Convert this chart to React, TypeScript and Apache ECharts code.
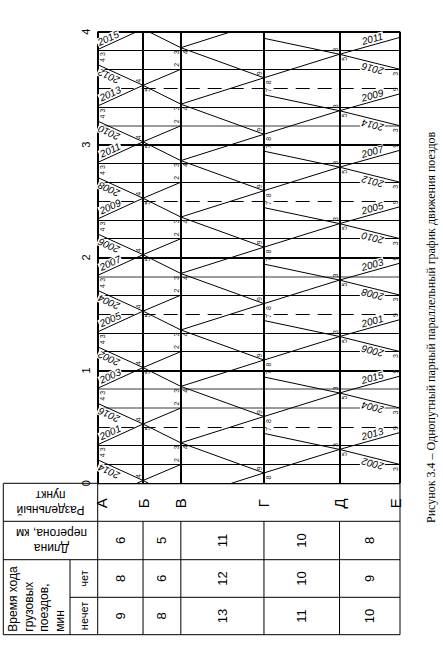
import React, { useEffect, useRef } from 'react';
import * as echarts from 'echarts';

// ---------- data ----------
const stations = ['А', 'Б', 'В', 'Г', 'Д', 'Е'];
const stationKm = [0, 6, 11, 22, 32, 40];
const spanKm = ['6', '5', '11', '10', '8'];
const runEven = ['8', '6', '12', '10', '9'];
const runOdd = ['9', '8', '13', '11', '10'];
const hourTicks = [0, 60, 120, 180, 240];

// odd trains А → Е : minutes at А dep, Б, В arr, В dep, Г, Д, Е arr
const oddNumbers = ['2001', '2003', '2005', '2007', '2009', '2011', '2013', '2015'];
const oddPath = [0, 1, 2, 2, 3, 4, 5];
const oddTimes = [
  [20.5, 31.5, 40, 51.5, 65.5, 78, 87],
  [50.5, 61.5, 70, 81.5, 95.5, 108, 117],
  [80.5, 91.5, 100, 111.5, 125.5, 138, 147],
  [110.5, 121.5, 130, 141.5, 155.5, 168, 177],
  [140.5, 151.5, 160, 171.5, 185.5, 198, 207],
  [170.5, 181.5, 190, 201.5, 215.5, 228, 237],
  [200.5, 211.5, 220, 231.5, 245.5, 258, 267],
  [230.5, 241.5, 250, 261.5, 275.5, 288, 297],
];
// minute digits written at the stations (incoming / outgoing line end)
const oddDigitsIn = ['', '4', '2', '', '9', '3', '9'];
const oddDigitsOut = ['3', '5', '', '4', '8', '5', ''];

// even trains Е → А : minutes at Е dep, Д, Г arr, Г dep, В, Б, А arr
const evenNumbers = ['2002', '2004', '2006', '2008', '2010', '2012', '2014', '2016'];
const evenPath = [5, 4, 3, 3, 2, 1, 0];
const evenTimes = [
  [10, 18, 26.5, 35.5, 51.5, 61.5, 72.5],
  [40, 48, 56.5, 65.5, 81.5, 91.5, 102.5],
  [70, 78, 86.5, 95.5, 111.5, 121.5, 132.5],
  [100, 108, 116.5, 125.5, 141.5, 151.5, 162.5],
  [130, 138, 146.5, 155.5, 171.5, 181.5, 192.5],
  [160, 168, 176.5, 185.5, 201.5, 211.5, 222.5],
  [190, 198, 206.5, 215.5, 231.5, 241.5, 252.5],
  [220, 228, 236.5, 245.5, 261.5, 271.5, 282.5],
];
const evenDigitsIn = ['', '', '7', '', '', '', '4'];
const evenDigitsOut = ['3', '', '', '', '3', '', ''];

const thinLines = [10, 20, 70, 80, 100, 130, 140, 160, 170, 200, 220, 230];
const grayLines = [40, 50, 110, 190];
const heavyLines = [0, 60, 120, 180, 240];
const dashedLines = [30, 90, 150, 210];

const caption = 'Рисунок 3.4 – Однопутный парный параллельный график движения поездов';
const CYCLE = 240;

type P = number[];

function wrapSegment(a: P, b: P): P[][] {
  const [x1, t1] = a;
  const [x2, t2] = b;
  if (t1 >= CYCLE && t2 >= CYCLE) return [[[x1, t1 - CYCLE], [x2, t2 - CYCLE]]];
  if ((t1 < CYCLE && t2 > CYCLE) || (t2 < CYCLE && t1 > CYCLE)) {
    const f = (CYCLE - t1) / (t2 - t1);
    const xm = x1 + f * (x2 - x1);
    if (t1 < t2) return [[[x1, t1], [xm, CYCLE]], [[xm, 0], [x2, t2 - CYCLE]]];
    return [[[x1, t1 - CYCLE], [xm, 0]], [[xm, CYCLE], [x2, t2]]];
  }
  return [[[x1, t1], [x2, t2]]];
}

type Seg = { pieces: P[][]; from: number; to: number; i0: number; i1: number; a: P; b: P };

function trainSegments(path: number[], times: number[]) {
  const segs: Seg[] = [];
  for (let i = 0; i < path.length - 1; i++) {
    if (path[i] === path[i + 1]) continue;
    const a = [stationKm[path[i]], times[i]];
    const b = [stationKm[path[i + 1]], times[i + 1]];
    segs.push({ pieces: wrapSegment(a, b), from: path[i], to: path[i + 1], i0: i, i1: i + 1, a, b });
  }
  return segs;
}

function linesSeries(data: P[][], color: string, width: number, type: any = 'solid', z = 2) {
  return {
    type: 'lines',
    coordinateSystem: 'cartesian2d',
    polyline: false,
    silent: true,
    z,
    animation: false,
    lineStyle: { color, width, type, opacity: 1, curveness: 0 },
    data: data.map((c) => ({ coords: c })),
  };
}

export default function App() {
  const ref = useRef<HTMLDivElement>(null);

  useEffect(() => {
    const el = ref.current!;
    const chart = echarts.init(el, null, { renderer: 'svg' });

    const kmMax = stationKm[stationKm.length - 1];
    const hline = (t: number): P[] => [[0, t], [kmMax, t]];
    const vline = (km: number): P[] => [[km, 0], [km, CYCLE]];

    const trainPieces: P[][] = [];
    const oddSegs = oddTimes.map((t) => trainSegments(oddPath, t));
    const evenSegs = evenTimes.map((t) => trainSegments(evenPath, t));
    [...oddSegs, ...evenSegs].forEach((segs) => segs.forEach((s) => s.pieces.forEach((p) => trainPieces.push(p))));

    const option: any = {
      animation: false,
      textStyle: { fontFamily: '"Liberation Sans", Arial, sans-serif' },
      grid: { left: 97.7, top: 31.7, width: 302.3, height: 451.6, containLabel: false, outerBoundsMode: 'none' },
      xAxis: { type: 'value', min: 0, max: kmMax, show: false },
      yAxis: {
        type: 'value',
        min: 0,
        max: CYCLE,
        interval: 60,
        axisLine: { show: false },
        axisTick: { show: false },
        splitLine: { show: false },
        axisLabel: {
          formatter: (v: number) => String(hourTicks.indexOf(v) >= 0 ? v / 60 : ''),
          rotate: 90,
          margin: 6,
          fontSize: 11,
          color: '#000',
          showMinLabel: true,
          showMaxLabel: true,
        },
      },
      series: [
        linesSeries(thinLines.map(hline), '#000', 1),
        linesSeries(grayLines.map(hline), '#7a7a7a', 1.6),
        linesSeries(dashedLines.map(hline), '#000', 1, [14, 8]),
        linesSeries(heavyLines.map(hline), '#000', 2),
        linesSeries(stationKm.map(vline), '#000', 2),
        linesSeries(trainPieces, '#000', 1, 'solid', 3),
      ],
    };
    chart.setOption(option);

    const px = (x: number, t: number): number[] => chart.convertToPixel({ gridIndex: 0 }, [x, t]) as number[];
    const sx = stationKm.map((k) => px(k, 0)[0]);
    const yTop = px(0, 0)[1];

    const g: any[] = [];
    const labelFont = 'italic 10px "Liberation Sans", Arial, sans-serif';

    const addTrainLabel = (num: string, pieces: P[][], odd: boolean, frac: number) => {
      let best = pieces[0];
      let bestLen = -1;
      pieces.forEach((p) => {
        const len = Math.abs(p[1][0] - p[0][0]);
        if (len > bestLen) { bestLen = len; best = p; }
      });
      const a = px(best[0][0], best[0][1]);
      const b = px(best[1][0], best[1][1]);
      const L = a[0] <= b[0] ? a : b;
      const R = a[0] <= b[0] ? b : a;
      const ang = Math.atan2(L[1] - R[1], R[0] - L[0]);
      const P0 = [L[0] + frac * (R[0] - L[0]), L[1] + frac * (R[1] - L[1])];
      const d = 6;
      let cx: number, cy: number, rot: number;
      if (odd) {
        cx = P0[0] - d * Math.sin(ang);
        cy = P0[1] - d * Math.cos(ang);
        rot = ang;
      } else {
        cx = P0[0] + d * Math.sin(ang);
        cy = P0[1] + d * Math.cos(ang);
        rot = ang + Math.PI;
      }
      g.push({
        type: 'text', x: cx, y: cy, rotation: rot, z: 100,
        style: {
          text: num, font: labelFont, fill: '#000', align: 'center', verticalAlign: 'middle',
          textAlign: 'center', textVerticalAlign: 'middle',
          backgroundColor: '#fff', padding: [0, 1], lineHeight: 9,
        },
      });
    };

    // minute digits near the stations
    const digitFont = '7px "Liberation Sans", Arial, sans-serif';
    const addDigit = (text: string, station: number, t: number, other: P) => {
      if (!text) return;
      let tt = t;
      if (tt > CYCLE) tt -= CYCLE;
      if (tt < 0 || tt > CYCLE) return;
      const side = other[0] > stationKm[station] ? 1 : -1;
      const vert = other[1] > t ? 1 : -1; // segment goes to later time -> digit below
      const p = px(stationKm[station], tt);
      const y = p[1] + vert * 4.5;
      if (y < yTop - 451 + 2 || y > yTop - 2) return;
      g.push({
        type: 'text', x: p[0] + side * 4.5, y, rotation: Math.PI / 2, z: 90,
        style: {
          text, font: digitFont, fill: '#222', align: 'center', verticalAlign: 'middle',
          textAlign: 'center', textVerticalAlign: 'middle',
        },
      });
    };

    oddSegs.forEach((segs, i) => {
      segs.forEach((s) => {
        if (s.from === 0 && s.to === 1) addTrainLabel(oddNumbers[i], s.pieces, true, 0.33);
        if (s.from === 4 && s.to === 5) addTrainLabel(oddNumbers[i], s.pieces, true, 0.57);
        addDigit(oddDigitsOut[s.i0], s.from, s.a[1], s.b);
        addDigit(oddDigitsIn[s.i1], s.to, s.b[1], s.a);
      });
    });
    evenSegs.forEach((segs, i) => {
      segs.forEach((s) => {
        if (s.from === 1 && s.to === 0) addTrainLabel(evenNumbers[i], s.pieces, false, 0.3);
        if (s.from === 5 && s.to === 4) addTrainLabel(evenNumbers[i], s.pieces, false, 0.57);
        addDigit(evenDigitsOut[s.i0], s.from, s.a[1], s.b);
        addDigit(evenDigitsIn[s.i1], s.to, s.b[1], s.a);
      });
    });

    // ---------- table ----------
    const tx0 = 3.3;
    const txSplit = 70;
    const rows = [yTop, 521.3, 559.7, 597.3, 634.7];
    const xA = sx[0];
    const xE = sx[sx.length - 1];
    const line = (x1: number, y1: number, x2: number, y2: number, w = 1) =>
      g.push({ type: 'line', z: 50, shape: { x1, y1, x2, y2 }, style: { stroke: '#000', lineWidth: w } });

    line(tx0, rows[0], xA, rows[0], 1);
    line(tx0, rows[1], xE, rows[1]);
    line(tx0, rows[2], xE, rows[2]);
    line(txSplit, rows[3], xE, rows[3]);
    line(tx0, rows[4], xE, rows[4]);
    line(tx0, rows[0], tx0, rows[4]);
    line(xA, rows[0], xA, rows[4]);
    line(xE, rows[0], xE, rows[4]);
    line(txSplit, rows[2], txSplit, rows[4]);
    for (let i = 1; i < sx.length - 1; i++) line(sx[i], rows[1], sx[i], rows[4]);

    const txt = (text: string, x: number, y: number, rotation: number, font: string, extra: any = {}) =>
      g.push({
        type: 'text', x, y, rotation, z: 60,
        style: {
          text, font, fill: '#000', align: 'center', verticalAlign: 'middle',
          textAlign: 'center', textVerticalAlign: 'middle', ...extra,
        },
      });

    const hdrFont = '12px "Liberation Sans", Arial, sans-serif';
    txt('Раздельный\nпункт', (tx0 + xA) / 2, (rows[0] + rows[1]) / 2, Math.PI, hdrFont, { lineHeight: 15 });
    txt('Длина\nперегона, км', (tx0 + xA) / 2 + 1, (rows[1] + rows[2]) / 2, Math.PI, hdrFont, { lineHeight: 15 });
    g.push({
      type: 'text', x: 5.5, y: rows[4] - 3, rotation: Math.PI / 2, z: 60,
      style: {
        text: 'Время хода\nгрузовых\nпоездов,\nмин', font: hdrFont, fill: '#000',
        align: 'left', verticalAlign: 'top', textAlign: 'left', textVerticalAlign: 'top', lineHeight: 15.5,
      },
    });
    const smallFont = '11px "Liberation Sans", Arial, sans-serif';
    txt('чет', (txSplit + xA) / 2, (rows[2] + rows[3]) / 2, Math.PI / 2, smallFont);
    txt('нечет', (txSplit + xA) / 2, (rows[3] + rows[4]) / 2, Math.PI / 2, smallFont);

    const letterFont = '15px "Liberation Sans", Arial, sans-serif';
    stations.forEach((s, i) => {
      const cx = Math.min(Math.max(sx[i], xA + 4), xE - 5);
      txt(s, cx, (rows[0] + rows[1]) / 2 + 1, Math.PI / 2, letterFont);
    });
    const valFont = '13px "Liberation Sans", Arial, sans-serif';
    for (let i = 0; i < spanKm.length; i++) {
      const cx = (sx[i] + sx[i + 1]) / 2;
      txt(spanKm[i], cx, (rows[1] + rows[2]) / 2, Math.PI / 2, valFont);
      txt(runEven[i], cx, (rows[2] + rows[3]) / 2, Math.PI / 2, valFont);
      txt(runOdd[i], cx, (rows[3] + rows[4]) / 2, Math.PI / 2, valFont);
    }

    // caption
    g.push({
      type: 'text', x: 431, y: 523, rotation: Math.PI / 2, z: 60,
      style: {
        text: caption, font: '12px "Liberation Serif", "Times New Roman", serif', fill: '#000',
        align: 'left', verticalAlign: 'middle', textAlign: 'left', textVerticalAlign: 'middle',
      },
    });

    chart.setOption({ graphic: { elements: g } });

    return () => chart.dispose();
  }, []);

  return (
    <div
      ref={ref}
      style={{ position: 'fixed', left: 0, top: 0, width: 443, height: 664, background: '#fff' }}
    />
  );
}
